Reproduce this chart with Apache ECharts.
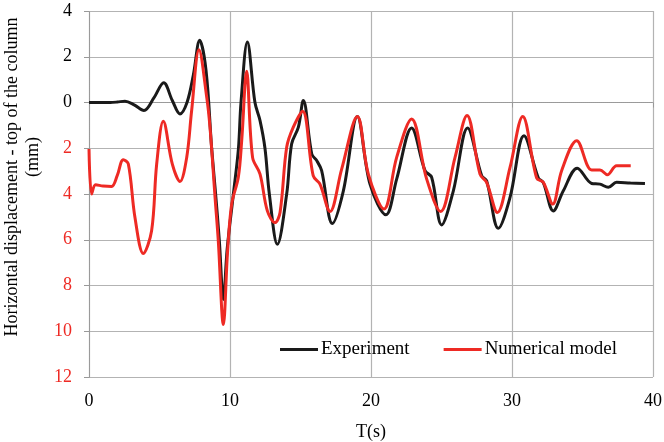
<!DOCTYPE html>
<html>
<head>
<meta charset="utf-8">
<script src="https://cdn.jsdelivr.net/npm/echarts@6/dist/echarts.min.js"></script>
<style>
  html, body { margin: 0; padding: 0; background: #fff; }
  #chart { width: 664px; height: 442px; }
</style>
</head>
<body>
<div id="chart"></div>
<script>
// Time (s) and horizontal displacement (mm) at the top of the column
const expTime = [0, 0.8, 1.5, 2.0, 2.55, 3.2, 3.9, 4.6, 5.3, 5.9, 6.45, 6.95, 7.4, 7.85, 8.3, 8.7, 8.98, 9.24, 9.53, 9.8, 10.24, 10.6, 10.78, 11.23, 11.77, 12.13, 12.48, 12.79, 13.36, 14.02, 14.37, 14.85, 15.2, 15.8, 16.15, 16.5, 17.26, 18.04, 19.03, 19.93, 21.06, 21.82, 22.88, 23.83, 24.3, 25.01, 25.84, 26.85, 27.85, 28.2, 29.03, 29.86, 30.85, 31.87, 32.22, 32.93, 33.64, 34.63, 35.65, 36.24, 36.83, 37.42, 38.4, 39.43];
const expDisp = [0, 0, 0, 0.02, 0.06, -0.1, -0.35, 0.2, 0.86, 0.1, -0.5, 0, 1.2, 2.72, 1.4, -2.0, -4.0, -6.0, -8.61, -6.4, -4.0, -2.0, 0, 2.65, 0, -0.79, -2.0, -4.0, -6.2, -4.0, -1.81, -1.08, 0.09, -2.25, -2.54, -2.98, -5.29, -3.86, -0.61, -3.57, -4.91, -3.35, -1.11, -2.98, -3.27, -5.35, -3.86, -1.11, -3.2, -3.42, -5.5, -4.15, -1.45, -3.3, -3.5, -4.74, -3.86, -2.87, -3.54, -3.57, -3.71, -3.49, -3.52, -3.54];

const numTime = [0, 0.19, 0.47, 1.0, 1.6, 2.0, 2.43, 2.79, 3.26, 3.85, 4.44, 4.8, 5.27, 5.91, 6.45, 6.93, 7.28, 7.8, 8.35, 8.58, 8.94, 9.17, 9.53, 9.83, 10.12, 10.59, 10.83, 11.18, 11.6, 12.13, 12.65, 13.19, 13.55, 14.02, 14.49, 15.15, 15.9, 16.38, 17.09, 17.92, 19.03, 19.81, 20.92, 21.82, 22.88, 23.95, 24.94, 25.96, 26.81, 27.73, 28.2, 28.96, 29.86, 30.76, 31.75, 32.22, 32.89, 33.52, 34.59, 35.65, 36.24, 36.76, 37.42, 38.42];
const numDisp = [-2.03, -4.0, -3.6, -3.65, -3.67, -3.2, -2.5, -2.69, -5.03, -6.6, -5.61, -2.69, -0.82, -2.69, -3.45, -2.4, -0.35, 2.31, 0.23, -1.08, -4.15, -6.05, -9.71, -6.5, -4.44, -3.27, -1.67, 1.37, -2.4, -3.13, -4.74, -5.25, -4.81, -1.96, -1.08, -0.38, -3.2, -3.57, -4.77, -2.91, -0.61, -3.13, -4.66, -2.4, -0.72, -3.35, -4.77, -2.4, -0.57, -3.13, -3.49, -4.81, -2.84, -0.61, -3.3, -3.49, -4.44, -2.98, -1.67, -2.95, -2.95, -3.16, -2.76, -2.76];

const seriesNames = ['Experiment', 'Numerical model'];
const seriesColors = ['#1a1a1a', '#ee2a24'];
const yTitleLines = ['Horizontal displacement - top of the column', '(mm)'];

const pairs = (t, v) => t.map((x, i) => [x, v[i]]);
const serif = '"Liberation Serif", "Times New Roman", serif';

const chart = echarts.init(document.getElementById('chart'), null, { renderer: 'canvas' });

const dotted = { color: '#999', width: 1, type: [1, 1] };

chart.setOption({
  animation: false,
  backgroundColor: '#fff',
  grid: { left: 89, top: 11, width: 564, height: 366, containLabel: false, outerBoundsMode: 'none' },
  legend: {
    data: seriesNames.map(n => ({ name: n, icon: 'rect' })),
    left: 275,
    top: 335,
    itemWidth: 38,
    itemHeight: 3,
    itemGap: 34,
    textStyle: { fontFamily: serif, fontSize: 19, color: '#000', padding: [0, 0, 0, -2] }
  },
  graphic: [{
    type: 'text', x: 12, y: 177, rotation: Math.PI / 2,
    style: { text: yTitleLines[0], font: '18px ' + serif, fill: '#000', align: 'center', verticalAlign: 'middle' }
  }, {
    type: 'text', x: 33, y: 157, rotation: Math.PI / 2,
    style: { text: yTitleLines[1], font: '18px ' + serif, fill: '#000', align: 'center', verticalAlign: 'middle' }
  }],
  xAxis: [{
    type: 'value',
    min: 0, max: 40, interval: 10,
    name: 'T(s)',
    nameLocation: 'middle',
    nameGap: 46,
    nameTextStyle: { fontFamily: serif, fontSize: 18, color: '#000' },
    axisLine: { show: true, lineStyle: dotted },
    axisTick: { show: true, length: 5, lineStyle: { color: '#999' } },
    axisLabel: { fontFamily: serif, fontSize: 18, color: '#000', margin: 15 },
    splitLine: { show: true, lineStyle: { color: '#b3b3b3', width: 1.2 } }
  }, {
    type: 'value', position: 'top',
    min: 0, max: 40, interval: 10,
    axisLine: { show: true, lineStyle: dotted },
    axisTick: { show: false }, axisLabel: { show: false }, splitLine: { show: false }
  }],
  yAxis: [{
    type: 'value',
    min: -12, max: 4, interval: 2,
    axisLine: { show: true, lineStyle: dotted },
    axisTick: { show: true, length: 5, lineStyle: { color: '#999' } },
    axisLabel: {
      fontFamily: serif, fontSize: 18, margin: 17,
      formatter: v => String(Math.abs(v)),
      color: v => (Number(v) < 0 ? '#ee2a24' : '#000')
    },
    splitLine: { show: true, lineStyle: { color: '#b3b3b3', width: 1.2 } }
  }, {
    type: 'value', position: 'right',
    min: -12, max: 4, interval: 2,
    axisLine: { show: true, lineStyle: dotted },
    axisTick: { show: false }, axisLabel: { show: false }, splitLine: { show: false }
  }],
  series: [{
    name: seriesNames[0],
    type: 'line',
    data: pairs(expTime, expDisp),
    smooth: 0.35,
    symbol: 'none',
    lineStyle: { color: seriesColors[0], width: 3 },
    itemStyle: { color: seriesColors[0] },
    z: 3
  }, {
    name: seriesNames[1],
    type: 'line',
    data: pairs(numTime, numDisp),
    smooth: 0.35,
    symbol: 'none',
    lineStyle: { color: seriesColors[1], width: 3 },
    itemStyle: { color: seriesColors[1] },
    z: 4
  }]
});
</script>
</body>
</html>
